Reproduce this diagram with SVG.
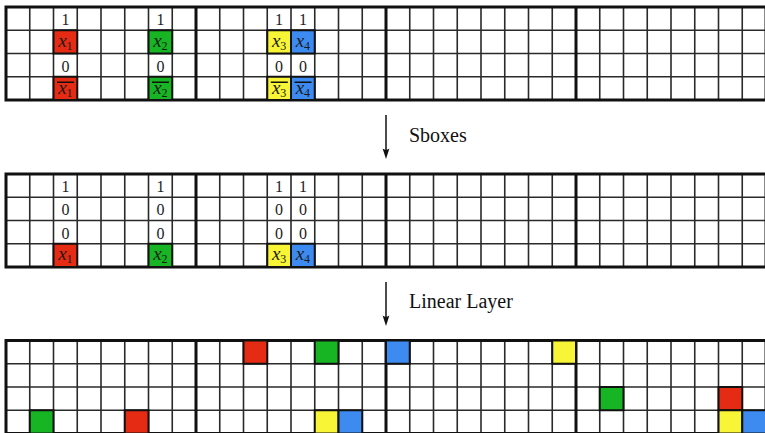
<svg xmlns="http://www.w3.org/2000/svg" xmlns:xlink="http://www.w3.org/1999/xlink" width="765" height="433" viewBox="0 0 765 433">
<style>
.thin{fill:none;stroke:#2a2a2a;stroke-width:1.6}
.thick{fill:none;stroke:#111;stroke-width:3}
.c{stroke:#111;stroke-width:2}
.r{fill:#E52B13}.g{fill:#17B423}.y{fill:#F8F436}.b{fill:#3D8BF0}
.d{font-size:16px;fill:#222;text-anchor:middle}
.v{font-size:19px;fill:#1a1a1a;text-anchor:middle}
.v .i{font-style:italic}
.v .s{font-size:12px}
.ol{stroke:#111;stroke-width:1.5}
.lbl{font-size:20px;fill:#111}
.arr{stroke:#111;stroke-width:1.5;fill:none}
.ah{fill:#111}
</style>
<defs>
<g id="grid">
<rect x="6" y="0" width="760" height="93" fill="#fff"/>
<path class="thin" d="M6 23.25H766M6 46.5H766M6 69.75H766M29.75 0V93M53.5 0V93M77.25 0V93M101 0V93M124.75 0V93M148.5 0V93M172.25 0V93M219.75 0V93M243.5 0V93M267.25 0V93M291 0V93M314.75 0V93M338.5 0V93M362.25 0V93M409.75 0V93M433.5 0V93M457.25 0V93M481 0V93M504.75 0V93M528.5 0V93M552.25 0V93M599.75 0V93M623.5 0V93M647.25 0V93M671 0V93M694.75 0V93M718.5 0V93M742.25 0V93"/>
<path class="thick" d="M196 0V93M386 0V93M576 0V93"/>
<rect class="thick" x="6" y="0" width="760" height="93"/>
</g>
</defs>
<g font-family="Liberation Serif, Times New Roman, DejaVu Serif, serif">
<g id="state-input">
<use xlink:href="#grid" href="#grid" y="7"/>
<rect class="c r" x="53.5" y="30.25" width="23.75" height="23.25"/>
<rect class="c g" x="148.5" y="30.25" width="23.75" height="23.25"/>
<rect class="c y" x="267.25" y="30.25" width="23.75" height="23.25"/>
<rect class="c b" x="291" y="30.25" width="23.75" height="23.25"/>
<rect class="c r" x="53.5" y="76.75" width="23.75" height="23.25"/>
<rect class="c g" x="148.5" y="76.75" width="23.75" height="23.25"/>
<rect class="c y" x="267.25" y="76.75" width="23.75" height="23.25"/>
<rect class="c b" x="291" y="76.75" width="23.75" height="23.25"/>
<text class="d" x="65.4" y="25">1</text>
<text class="d" x="160.4" y="25">1</text>
<text class="d" x="279.1" y="25">1</text>
<text class="d" x="302.9" y="25">1</text>
<text class="v" x="65.4" y="46.5"><tspan class="i">x</tspan><tspan class="s" dy="3">1</tspan></text>
<text class="v" x="160.4" y="46.5"><tspan class="i">x</tspan><tspan class="s" dy="3">2</tspan></text>
<text class="v" x="279.1" y="46.5"><tspan class="i">x</tspan><tspan class="s" dy="3">3</tspan></text>
<text class="v" x="302.9" y="46.5"><tspan class="i">x</tspan><tspan class="s" dy="3">4</tspan></text>
<text class="d" x="65.4" y="71.5">0</text>
<text class="d" x="160.4" y="71.5">0</text>
<text class="d" x="279.1" y="71.5">0</text>
<text class="d" x="302.9" y="71.5">0</text>
<text class="v" x="65.4" y="93.5"><tspan class="i">x</tspan><tspan class="s" dy="3">1</tspan></text>
<text class="v" x="160.4" y="93.5"><tspan class="i">x</tspan><tspan class="s" dy="3">2</tspan></text>
<text class="v" x="279.1" y="93.5"><tspan class="i">x</tspan><tspan class="s" dy="3">3</tspan></text>
<text class="v" x="302.9" y="93.5"><tspan class="i">x</tspan><tspan class="s" dy="3">4</tspan></text>
<path class="ol" d="M57 82.2H74M152 82.2H169M270.8 82.2H287.8M294.5 82.2H311.5"/>
</g>

<g id="state-sboxes">
<use xlink:href="#grid" href="#grid" y="174"/>
<rect class="c r" x="53.5" y="243.75" width="23.75" height="23.25"/>
<rect class="c g" x="148.5" y="243.75" width="23.75" height="23.25"/>
<rect class="c y" x="267.25" y="243.75" width="23.75" height="23.25"/>
<rect class="c b" x="291" y="243.75" width="23.75" height="23.25"/>
<text class="d" x="65.4" y="192">1</text>
<text class="d" x="160.4" y="192">1</text>
<text class="d" x="279.1" y="192">1</text>
<text class="d" x="302.9" y="192">1</text>
<text class="d" x="65.4" y="215.25">0</text>
<text class="d" x="160.4" y="215.25">0</text>
<text class="d" x="279.1" y="215.25">0</text>
<text class="d" x="302.9" y="215.25">0</text>
<text class="d" x="65.4" y="238.5">0</text>
<text class="d" x="160.4" y="238.5">0</text>
<text class="d" x="279.1" y="238.5">0</text>
<text class="d" x="302.9" y="238.5">0</text>
<text class="v" x="65.4" y="260"><tspan class="i">x</tspan><tspan class="s" dy="3">1</tspan></text>
<text class="v" x="160.4" y="260"><tspan class="i">x</tspan><tspan class="s" dy="3">2</tspan></text>
<text class="v" x="279.1" y="260"><tspan class="i">x</tspan><tspan class="s" dy="3">3</tspan></text>
<text class="v" x="302.9" y="260"><tspan class="i">x</tspan><tspan class="s" dy="3">4</tspan></text>
</g>

<g id="state-linear">
<use xlink:href="#grid" href="#grid" y="340.5"/>
<rect class="c r" x="243.5" y="340.5" width="23.75" height="23.25"/>
<rect class="c g" x="314.75" y="340.5" width="23.75" height="23.25"/>
<rect class="c b" x="386" y="340.5" width="23.75" height="23.25"/>
<rect class="c y" x="552.25" y="340.5" width="23.75" height="23.25"/>
<rect class="c g" x="599.75" y="387" width="23.75" height="23.25"/>
<rect class="c r" x="718.5" y="387" width="23.75" height="23.25"/>
<rect class="c g" x="29.75" y="410.25" width="23.75" height="23.25"/>
<rect class="c r" x="124.75" y="410.25" width="23.75" height="23.25"/>
<rect class="c y" x="314.75" y="410.25" width="23.75" height="23.25"/>
<rect class="c b" x="338.5" y="410.25" width="23.75" height="23.25"/>
<rect class="c y" x="718.5" y="410.25" width="23.75" height="23.25"/>
<rect class="c b" x="742.25" y="410.25" width="23.75" height="23.25"/>
</g>

<g id="connectors">
<line class="arr" x1="386" y1="115" x2="386" y2="152"/>
<path class="ah" d="M386 159 L382.6 148.5 Q386 151 389.4 148.5 Z"/>
<text class="lbl" x="409" y="142">Sboxes</text>
<line class="arr" x1="386" y1="282" x2="386" y2="319"/>
<path class="ah" d="M386 326 L382.6 315.5 Q386 318 389.4 315.5 Z"/>
<text class="lbl" x="409" y="307.5">Linear Layer</text>
</g>
</g>
</svg>
